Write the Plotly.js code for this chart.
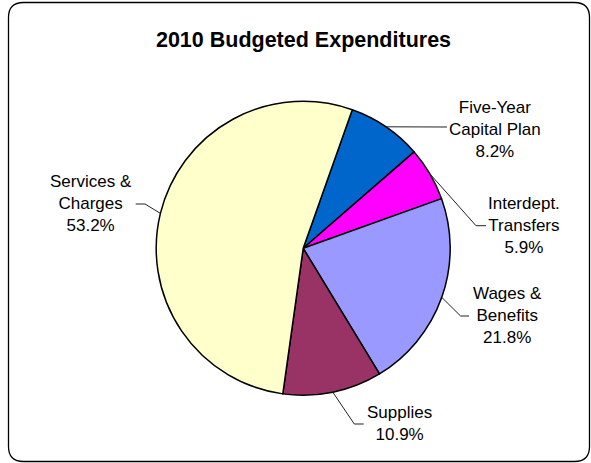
<!DOCTYPE html>
<html>
<head>
<meta charset="utf-8">
<script src="https://cdn.plot.ly/plotly-3.0.1.min.js"></script>
<style>html,body{margin:0;padding:0;background:#fff;}#chart{width:591px;height:463px;}</style>
</head>
<body>
<div id="chart"></div>
<script>
// ---- data ----
const categories = ['Five-Year Capital Plan', 'Interdept. Transfers', 'Wages & Benefits', 'Supplies', 'Services & Charges'];
const labelLines = [['Five-Year', 'Capital Plan'], ['Interdept.', 'Transfers'], ['Wages &', 'Benefits'], ['Supplies'], ['Services &', 'Charges']];
const percentages = [8.2, 5.9, 21.8, 10.9, 53.2];
const chartTitle = '2010 Budgeted Expenditures';

// ---- styles / layout ----
const sliceColors = ['#0066CC', '#FF00FF', '#9999FF', '#993366', '#FFFFCC'];
const W = 591, H = 463;
const pieCenter = [303.2, 248.3], pieRadius = 147;
const startRotation = 19.5;
// label text centres (px) and leader elbow/end points (px)
const labelPos = [[495, 129], [524, 225.7], [507, 315.7], [399.5, 423], [90.5, 203.3]];
const leaderElbow = [[447, 127], [476, 225.7], [460.6, 316], [354.3, 424], [145, 204]];
const leaderEnd = [[447, 127], [486, 225.7], [469, 316], [363.7, 424], [135.7, 204]];

const px = x => x / W;
const py = y => 1 - y / H;

const total = percentages.reduce((a, b) => a + b, 0);
let cum = 0;
const shapes = [];
const annotations = [];
percentages.forEach((v, i) => {
  const mid = (startRotation + (cum + v / 2) / total * 360) * Math.PI / 180;
  cum += v;
  const sx = pieCenter[0] + pieRadius * Math.sin(mid);
  const sy = pieCenter[1] - pieRadius * Math.cos(mid);
  shapes.push({
    type: 'path', xref: 'paper', yref: 'paper',
    path: `M ${px(sx)} ${py(sy)} L ${px(leaderElbow[i][0])} ${py(leaderElbow[i][1])} L ${px(leaderEnd[i][0])} ${py(leaderEnd[i][1])}`,
    line: {color: '#222', width: 1}
  });
  annotations.push({
    xref: 'paper', yref: 'paper', x: px(labelPos[i][0]), y: py(labelPos[i][1]),
    xanchor: 'center', yanchor: 'middle', showarrow: false, align: 'center',
    text: labelLines[i].concat([v.toFixed(1) + '%']).join('<br>'),
    font: {family: 'Liberation Sans, Arial, sans-serif', size: 17, color: '#000'}
  });
});

// rounded chart-area border
const bx0 = 8.5, bx1 = 589.5, by0 = 2.5, by1 = 461.5, rr = 15;
shapes.push({
  type: 'path', xref: 'paper', yref: 'paper', layer: 'below',
  path: `M ${px(bx0 + rr)} ${py(by0)} L ${px(bx1 - rr)} ${py(by0)} Q ${px(bx1)} ${py(by0)} ${px(bx1)} ${py(by0 + rr)} ` +
        `L ${px(bx1)} ${py(by1 - rr)} Q ${px(bx1)} ${py(by1)} ${px(bx1 - rr)} ${py(by1)} ` +
        `L ${px(bx0 + rr)} ${py(by1)} Q ${px(bx0)} ${py(by1)} ${px(bx0)} ${py(by1 - rr)} ` +
        `L ${px(bx0)} ${py(by0 + rr)} Q ${px(bx0)} ${py(by0)} ${px(bx0 + rr)} ${py(by0)} Z`,
  line: {color: '#000', width: 1.3}
});

const trace = {
  type: 'pie',
  labels: categories,
  values: percentages,
  sort: false,
  direction: 'clockwise',
  rotation: startRotation,
  textinfo: 'none',
  hoverinfo: 'label+percent',
  marker: {colors: sliceColors, line: {color: '#000', width: 1.5}},
  domain: {
    x: [px(pieCenter[0] - pieRadius), px(pieCenter[0] + pieRadius)],
    y: [py(pieCenter[1] + pieRadius), py(pieCenter[1] - pieRadius)]
  },
  showlegend: false
};

const layout = {
  width: W, height: H,
  margin: {l: 0, r: 0, t: 0, b: 0},
  paper_bgcolor: '#fff',
  plot_bgcolor: '#fff',
  showlegend: false,
  title: {
    text: '<b>' + chartTitle + '</b>',
    x: px(303.5), xanchor: 'center',
    y: py(39), yanchor: 'middle',
    font: {family: 'Liberation Sans, Arial, sans-serif', size: 21.5, color: '#000'}
  },
  shapes: shapes,
  annotations: annotations
};

Plotly.newPlot('chart', [trace], layout, {displayModeBar: false, staticPlot: true});
</script>
</body>
</html>
